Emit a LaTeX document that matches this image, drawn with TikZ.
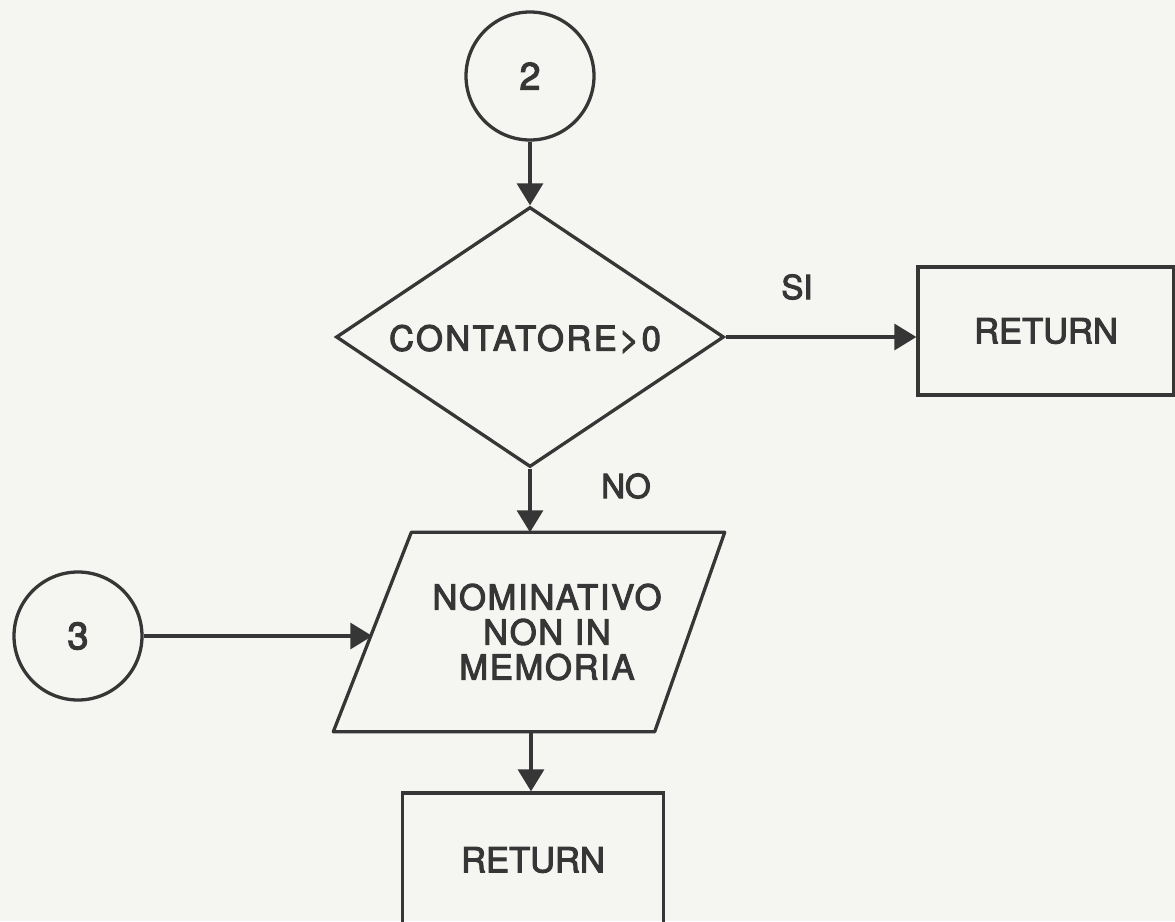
\documentclass[tikz,border=0pt]{standalone}
\usepackage{fontspec}
\setmainfont{TeX Gyre Heros}
\newfontfamily\heavysans{TeX Gyre Heros}[FakeBold=3]
\newfontfamily\heavywide{TeX Gyre Heros}[FakeBold=3,LetterSpace=7]
\newfontfamily\heavymid{TeX Gyre Heros}[FakeBold=3,LetterSpace=5]
\usetikzlibrary{arrows.meta,shapes.geometric,calc}

\definecolor{paper}{HTML}{F5F5F2}
\definecolor{ink}{HTML}{363636}

\tikzset{
  x=1pt, y=1pt,
  every node/.style={text=ink, font=\heavysans\fontsize{34.5}{35}\selectfont},
  flow/.style={draw=ink, line width=3.3pt},
  connector/.style={draw=ink, line width=3.3pt, minimum size=128pt, circle, inner sep=0pt,
    font=\heavysans\fontsize{38}{40}\selectfont},
  decision/.style={draw=ink, line width=3.3pt, diamond, minimum width=388pt,
    minimum height=260pt, aspect=1.49, inner sep=0pt},
  process/.style={draw=ink, line width=3.3pt, rectangle, minimum width=258pt,
    minimum height=128pt, inner sep=0pt},
  io/.style={rectangle, minimum width=317pt, minimum height=199pt, inner sep=0pt},
  caption/.style={align=center, font=\heavymid\fontsize{34.5}{35}\selectfont},
  arrow/.style={draw=ink, line width=3.3pt,
    -{Triangle[length=22pt,width=26pt]}},
  tag/.style={font=\heavysans\fontsize{33}{34}\selectfont},
}

\begin{document}
\begin{tikzpicture}
  % page and paper tone
  \fill[paper] (0,0) rectangle (1175,-921);
  \useasboundingbox (0,0) rectangle (1175,-921);

  % flowchart blocks
  \node[connector] (c2) at (530,-76) {2};
  \node[decision] (dec) at (530,-337) {};
  \node[font=\heavywide\fontsize{34.5}{35}\selectfont] (dectext) at (525,-339) {CONTATORE>0};
  \node[process, minimum width=256pt] (ret1) at (1046,-331) {RETURN};
  \node[io] (msg) at (531,-632) {};
  \draw[flow, line join=round]
    ($(msg.north west)+(39,0)$) -- ($(msg.north east)+(35,0)$)
    -- ($(msg.south east)+(-35,0)$) -- ($(msg.south west)+(-39,0)$) -- cycle;
  \node[caption] (msgtext) at (547,-632) {NOMINATIVO\\NON IN\\MEMORIA};
  \node[connector] (c3) at (78,-636) {3};
  \node[process, minimum width=261pt, minimum height=134pt] (ret2) at (533,-860) {RETURN};

  % connectors
  \draw[arrow] (c2.south) -- (dec.north);
  \draw[arrow] (dec.east) -- (dec.east -| ret1.west);
  \draw[arrow] (dec.south) -- (dec.south |- msg.north);
  \draw[arrow] (c3.east) -- (c3.east -| msg.west);
  \draw[arrow] (msg.south) -- (msg.south |- ret2.north);

  % branch labels
  \node[tag] (si) at (797,-287) {SI};
  \node[tag] (no) at (626,-486) {NO};
\end{tikzpicture}
\end{document}
